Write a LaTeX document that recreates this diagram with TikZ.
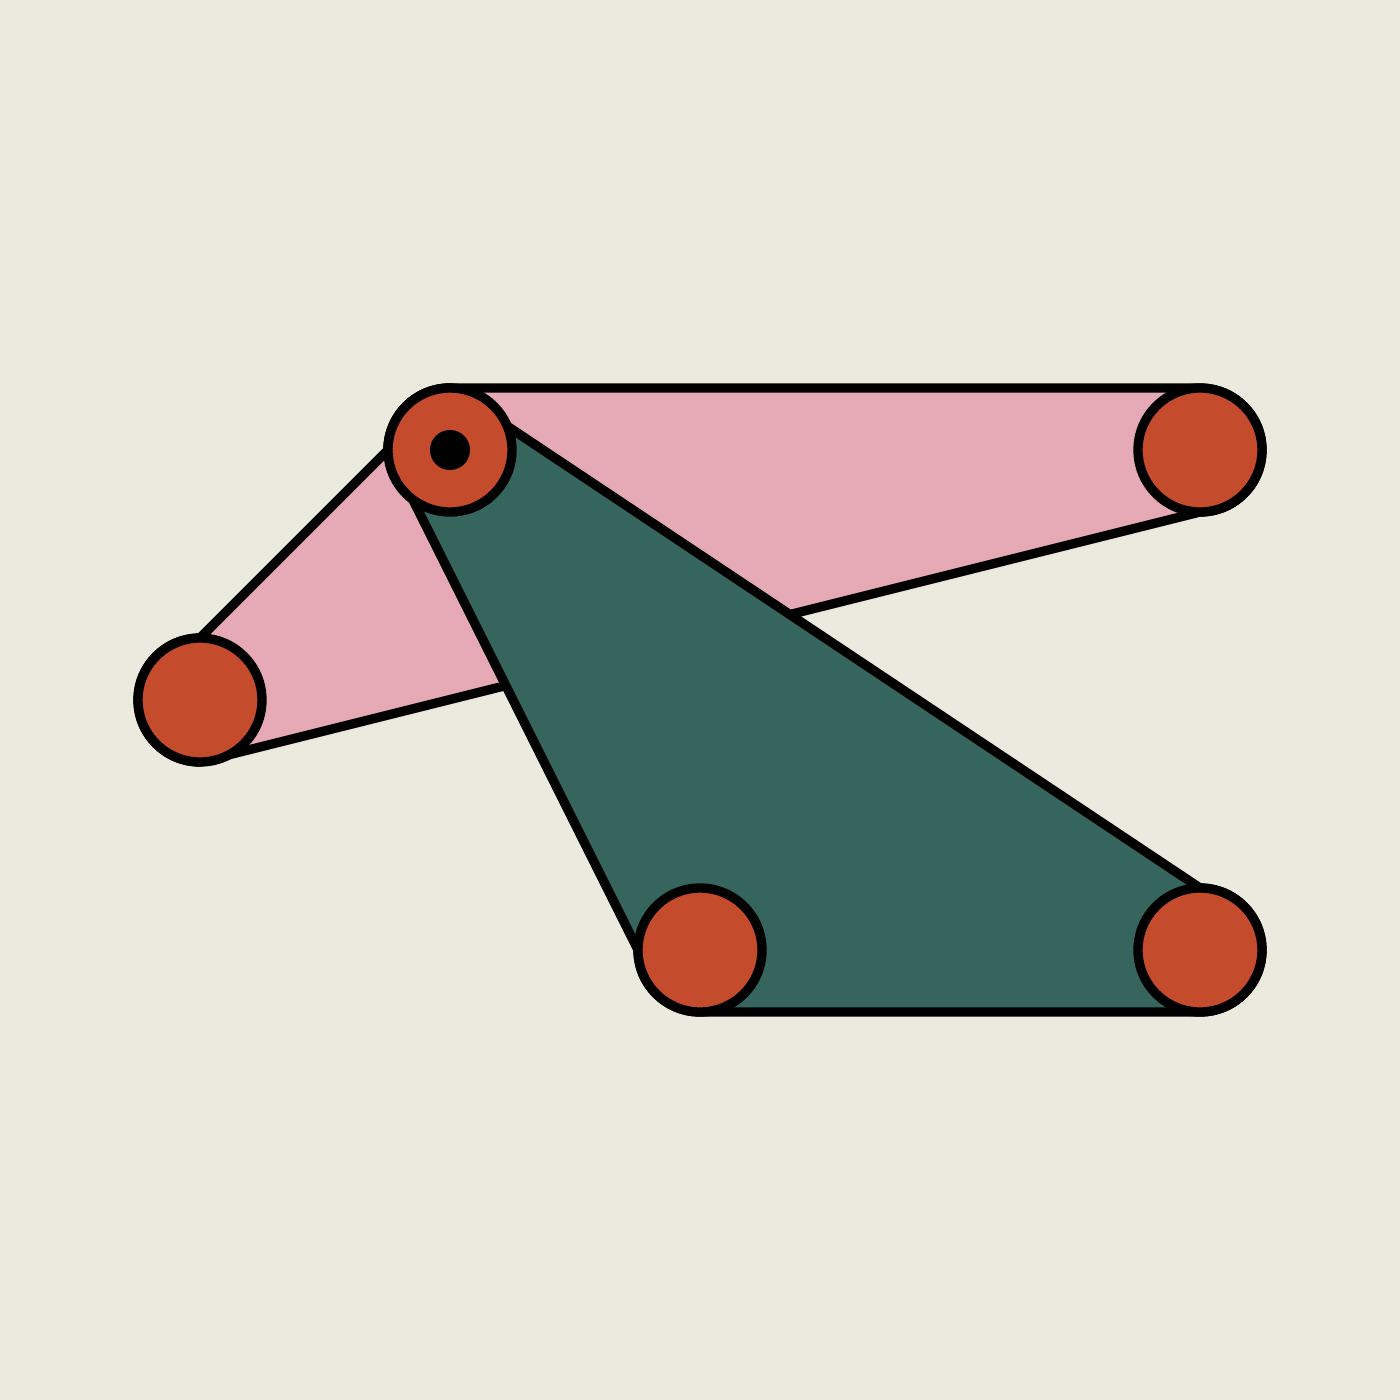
\documentclass[tikz,border=0pt]{standalone}
\usepackage{tikz}

\definecolor{bgcol}{HTML}{EAEADF}
\definecolor{pinkcol}{HTML}{E5AAB5}
\definecolor{greencol}{HTML}{35655C}
\definecolor{jointcol}{HTML}{C44B2C}

\tikzset{every picture/.style={line width=7pt},
  joint/.style={circle,draw=black,fill=jointcol,minimum size=93pt,inner sep=0pt},
  pin/.style={circle,fill=black,minimum size=30pt,inner sep=0pt}}

\begin{document}
\begin{tikzpicture}[x=0.75pt,y=0.75pt,yscale=-1,xscale=1]
%Background
\fill[bgcol] (0,0) rectangle (1400,1400);
\useasboundingbox (0,0) rectangle (1400,1400);

%Shape: Pink link
\draw[fill=pinkcol,line join=round] (450,388) -- (1200,388) arc[start angle=-90,end angle=90,radius=62]
  -- (200,762) arc[start angle=90,end angle=270,radius=62]
  -- (388,450) arc[start angle=180,end angle=270,radius=62] -- cycle ;

%Shape: Green link
\draw[fill=greencol,line join=round] (388,450) -- (638,950) arc[start angle=180,end angle=90,radius=62]
  -- (1200,1012) arc[start angle=90,end angle=-90,radius=62]
  -- (450,388) arc[start angle=-90,end angle=-180,radius=62] -- cycle ;

%Joints
\node[joint] (top) at (450,450) {};
\node[joint] (topright) at (1200,450) {};
\node[joint] (left) at (200,700) {};
\node[joint] (bottom) at (700,950) {};
\node[joint] (bottomright) at (1200,950) {};
\node[pin] (fixed) at (top) {};

\end{tikzpicture}
\end{document}
